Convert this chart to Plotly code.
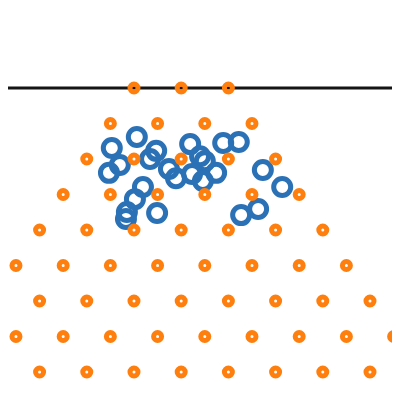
import plotly.graph_objects as go

# orange lattice: x positions for each row, row y values
row_y = [0, 1, 2, 3, 4, 5, 6, 7, 8]
row_x = [
    [0.5, 1.5, 2.5, 3.5, 4.5, 5.5, 6.5, 7.5],
    [0, 1, 2, 3, 4, 5, 6, 7, 8],
    [0.5, 1.5, 2.5, 3.5, 4.5, 5.5, 6.5, 7.5],
    [0, 1, 2, 3, 4, 5, 6, 7],
    [0.5, 1.5, 2.5, 3.5, 4.5, 5.5, 6.5],
    [1, 2, 3, 4, 5, 6],
    [1.5, 2.5, 3.5, 4.5, 5.5],
    [2, 3, 4, 5],
    [2.5, 3.5, 4.5],
]

# blue samples
blue_x = [2.56, 2.03, 2.20, 1.97, 2.97, 2.84, 3.24, 3.39, 2.69, 2.52, 2.35, 2.33, 2.99,
          3.69, 3.90, 4.00, 3.73, 4.24, 3.96, 4.39, 4.72, 5.23, 5.64, 4.77, 5.13]
blue_y = [6.62, 6.31, 5.83, 5.61, 6.23, 6.00, 5.72, 5.46, 5.21, 4.87, 4.51, 4.31, 4.48,
          6.42, 6.08, 5.94, 5.58, 5.61, 5.38, 6.45, 6.48, 5.69, 5.21, 4.42, 4.59]

line_y = 8

orange_x, orange_y = [], []
for yv, xs in zip(row_y, row_x):
    for xv in xs:
        orange_x.append(xv)
        orange_y.append(yv)

fig = go.Figure()
fig.add_trace(go.Scatter(x=blue_x, y=blue_y, mode='markers',
    marker=dict(symbol='circle-open', size=17, color='#2b71b5', line=dict(width=5, color='#2b71b5'))))
fig.add_trace(go.Scatter(x=orange_x, y=orange_y, mode='markers',
    marker=dict(symbol='circle-open', size=8, color='#ff7f0e', line=dict(width=5, color='#ff7f0e'))))

fig.add_hline(y=line_y, line=dict(color='#151515', width=3), layer='below')

# page body has an 8px margin, so ranges are shifted to compensate
fig.update_layout(
    width=400, height=384, margin=dict(l=0, r=0, t=0, b=0),
    showlegend=False, plot_bgcolor='white', paper_bgcolor='white',
    xaxis=dict(range=[-0.169, 8.305], visible=False),
    yaxis=dict(range=[-0.563, 10.254], visible=False),
)

fig.write_html("out.html")
